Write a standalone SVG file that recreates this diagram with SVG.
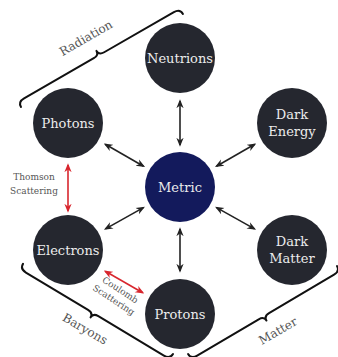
<svg xmlns="http://www.w3.org/2000/svg" width="338" height="357" viewBox="0 0 338 357">
<style>
.node{fill:#25272f}
.metric{fill:#131a5c}
.nt{font-family:"DejaVu Serif","Liberation Serif",serif;font-size:13px;fill:#ececec;text-anchor:middle}
.lab{font-family:"DejaVu Serif","Liberation Serif",serif;font-size:12px;fill:#555;text-anchor:middle}
.sm{font-family:"DejaVu Serif","Liberation Serif",serif;font-size:9px;fill:#555;text-anchor:middle}
.arr{stroke:#222;stroke-width:1.6;fill:none}
.red{stroke:#d8262e;stroke-width:1.6;fill:none}
.brace{stroke:#111;stroke-width:2;fill:none;stroke-linecap:round;stroke-linejoin:round}
</style>
<defs>
<marker id="ah" viewBox="0 0 10 10" refX="8" refY="5" markerWidth="9" markerHeight="9" markerUnits="userSpaceOnUse" orient="auto-start-reverse"><path d="M0,1 L10,5 L0,9 L3,5 Z" fill="#222"/></marker>
<marker id="ahr" viewBox="0 0 10 10" refX="8" refY="5" markerWidth="9" markerHeight="9" markerUnits="userSpaceOnUse" orient="auto-start-reverse"><path d="M0,1 L10,5 L0,9 L3,5 Z" fill="#d8262e"/></marker>
</defs>
<g id="connectors">
<line class="arr" x1="180" y1="101" x2="180" y2="145" marker-start="url(#ah)" marker-end="url(#ah)"/>
<line class="arr" x1="180" y1="271" x2="180" y2="229" marker-start="url(#ah)" marker-end="url(#ah)"/>
<line class="arr" x1="105.3" y1="144.3" x2="143.5" y2="166.2" marker-start="url(#ah)" marker-end="url(#ah)"/>
<line class="arr" x1="254.7" y1="144.3" x2="216.5" y2="166.2" marker-start="url(#ah)" marker-end="url(#ah)"/>
<line class="arr" x1="105.5" y1="228.9" x2="143.4" y2="207.6" marker-start="url(#ah)" marker-end="url(#ah)"/>
<line class="arr" x1="254.5" y1="228.9" x2="216.6" y2="207.6" marker-start="url(#ah)" marker-end="url(#ah)"/>
<line class="red" x1="68" y1="165" x2="68" y2="211" marker-start="url(#ahr)" marker-end="url(#ahr)"/>
<line class="red" x1="105.3" y1="271.3" x2="142.7" y2="292.7" marker-start="url(#ahr)" marker-end="url(#ahr)"/>
</g>
<g id="braces">
<path class="brace" transform="translate(21,107) rotate(-29.9)" d="M0,0 C0,-4 2,-6 7,-6 L87.4,-6 C91.4,-6 93.4,-8 93.4,-11 C93.4,-8 95.4,-6 99.4,-6 L179.8,-6 C184.8,-6 186.8,-4 186.8,0"/>
<path class="brace" transform="translate(173,354) rotate(-149)" d="M0,0 C0,-4 2,-6 7,-6 L83.5,-6 C87.5,-6 89.5,-8 89.5,-11 C89.5,-8 91.5,-6 95.5,-6 L168,-6 C173,-6 175,-4 175,0"/>
<path class="brace" transform="translate(337,266) rotate(149.4)" d="M0,0 C0,-4 2,-6 7,-6 L82.5,-6 C86.5,-6 88.5,-8 88.5,-11 C88.5,-8 90.5,-6 94.5,-6 L166,-6 C171,-6 173,-4 173,0"/>
<text class="lab" transform="translate(86,38) rotate(-30)" y="4">Radiation</text>
<text class="lab" transform="translate(85,329) rotate(30)" y="4">Baryons</text>
<text class="lab" transform="translate(278,331) rotate(-30)" y="4">Matter</text>
</g>
<g id="edge-labels">
<text class="sm" x="34" y="180">Thomson</text>
<text class="sm" x="34" y="194">Scattering</text>
<g transform="translate(117,295) rotate(33)">
<text class="sm" x="0" y="-3">Coulomb</text>
<text class="sm" x="0" y="9">Scattering</text>
</g>
</g>
<g id="metric"><circle class="metric" cx="180" cy="187" r="35"/><text class="nt" x="180" y="191.5">Metric</text></g>
<g id="neutrions"><circle class="node" cx="180" cy="58" r="35"/><text class="nt" x="180" y="62.5">Neutrions</text></g>
<g id="photons"><circle class="node" cx="68" cy="123" r="35"/><text class="nt" x="68" y="127.5">Photons</text></g>
<g id="dark-energy"><circle class="node" cx="292" cy="123" r="35"/><text class="nt" x="292" y="119">Dark</text><text class="nt" x="292" y="136">Energy</text></g>
<g id="electrons"><circle class="node" cx="68" cy="250" r="35"/><text class="nt" x="68" y="254.5">Electrons</text></g>
<g id="dark-matter"><circle class="node" cx="292" cy="250" r="35"/><text class="nt" x="292" y="246">Dark</text><text class="nt" x="292" y="263">Matter</text></g>
<g id="protons"><circle class="node" cx="180" cy="314" r="35"/><text class="nt" x="180" y="318.5">Protons</text></g>
</svg>
